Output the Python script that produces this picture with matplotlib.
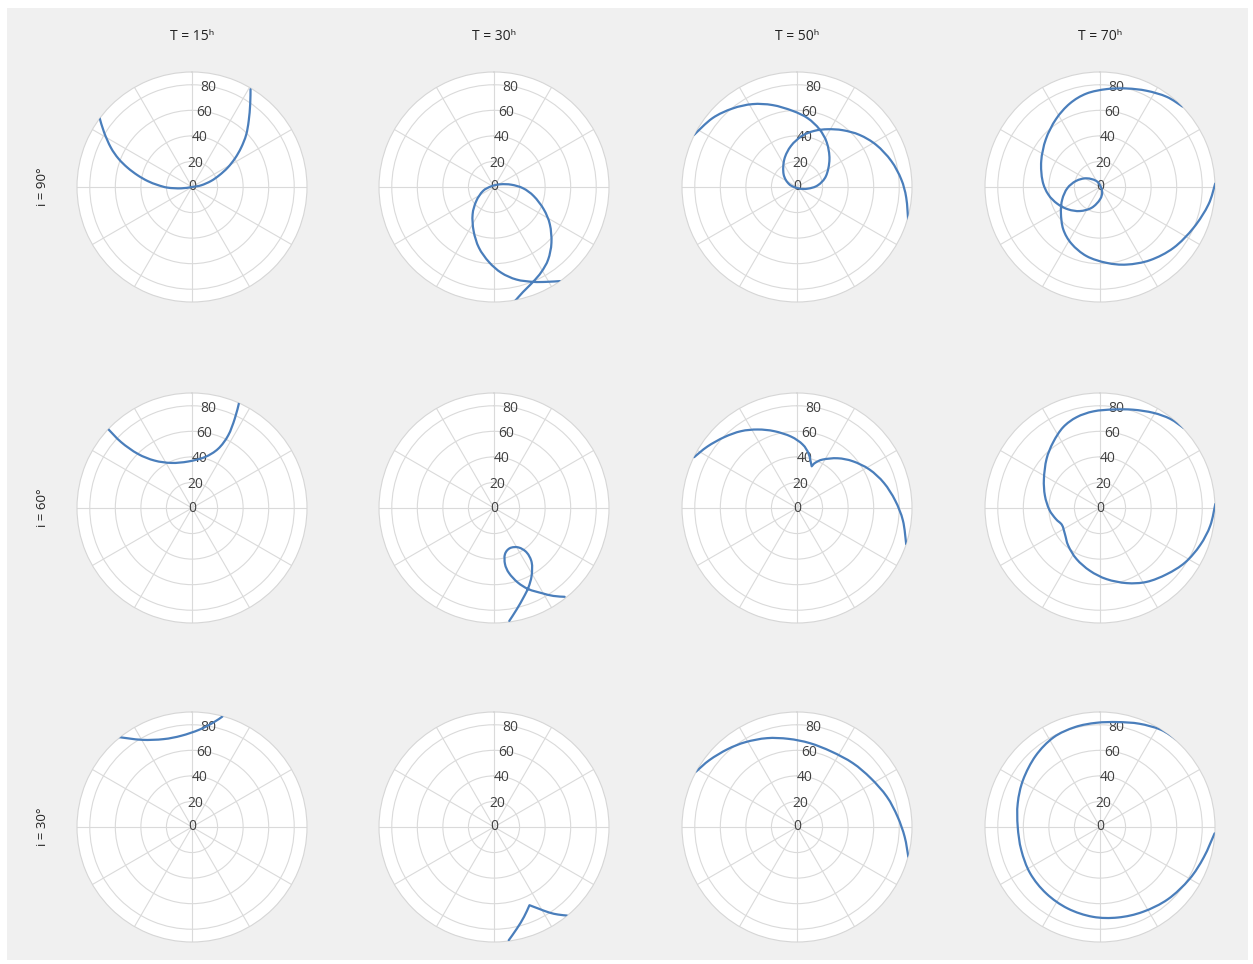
import numpy as np
import matplotlib.pyplot as plt
from matplotlib.patches import Rectangle, PathPatch
from matplotlib.path import Path

plt.rcParams['font.family'] = ['Open Sans', 'DejaVu Sans']

# orbit period (hours) per column, inclination (deg) per row
periods = [15, 30, 50, 70]
inclinations = [90, 60, 30]
r_ticks = [0, 20, 40, 60, 80]

# tracks: azimuth (deg, clockwise from north), zenith distance (deg)
az_90_15 = [306.7, 301.8, 295.9, 291.1, 286.7, 282.2, 277.7, 273.4, 268.5, 263.0, 0.0,
            79.6, 72.5, 66.7, 61.5, 56.3, 51.3, 46.1, 40.6, 35.1, 30.9]
zen_90_15 = [90.1, 80.9, 70.6, 61.7, 52.7, 43.6, 35.1, 27.0, 19.1, 8.7, 0.0,
             7.2, 15.6, 23.3, 31.8, 40.5, 49.3, 58.8, 68.2, 79.2, 89.2]

az_90_30 = [169.7, 164.5, 157.6, 150.8, 143.2, 134.2, 123.8, 114.2, 102.9, 92.5, 82.5, 67.0,
            284.0, 250.0, 231.6, 218.0, 204.8, 193.9, 183.8, 175.1, 166.4, 157.6, 151.1, 145.0]
zen_90_30 = [90.9, 85.2, 80.3, 76.1, 70.8, 62.7, 52.6, 42.7, 31.9, 22.8, 13.7, 5.4,
             2.2, 9.2, 17.7, 27.2, 38.0, 49.0, 58.9, 67.4, 74.5, 80.3, 84.8, 89.9]

az_90_50 = [296.9, 309.2, 320.6, 331.8, 343.4, 356.7, 8.8, 21.2, 33.8, 49.5, 69.2, 85.4, 98.8,
            129.0, 289.3, 313.4, 335.5, 351.7, 5.6, 17.2, 28.0, 38.9, 50.2, 62.0, 74.5, 85.8,
            95.6, 107.3]
zen_90_50 = [90.3, 85.3, 79.5, 73.6, 66.9, 59.7, 54.5, 48.5, 41.9, 33.4, 24.3, 16.3, 8.5,
             1.7, 6.4, 14.4, 23.9, 32.5, 40.2, 46.0, 51.2, 57.1, 63.7, 70.2, 76.5, 81.8,
             85.9, 91.2]

az_90_70 = [45.7, 36.5, 25.9, 15.2, 3.9, 351.8, 340.2, 327.0, 311.4, 293.9, 276.0, 261.8,
            248.6, 234.8, 219.8, 201.8, 180.0, 153.0, 333.0, 302.9, 284.0, 267.8, 251.8,
            236.7, 220.9, 206.6, 191.0, 175.0, 161.0, 145.6, 129.6, 113.5, 99.1, 88.3]
zen_90_70 = [90.2, 87.8, 83.7, 79.9, 76.8, 73.9, 69.5, 63.3, 56.5, 50.3, 45.2, 40.9,
             35.9, 30.4, 24.5, 17.5, 9.7, 3.5, 4.7, 12.5, 19.4, 25.6, 31.1,
             36.6, 43.9, 49.7, 55.1, 59.6, 64.2, 69.4, 74.7, 79.9, 86.0, 90.2]

az_60_15 = [313.3, 312.9, 315.0, 321.7, 335.4, 355.1, 14.0, 23.8, 26.5, 25.6, 24.1]
zen_60_15 = [90.5, 75.7, 59.9, 47.3, 38.8, 36.5, 41.0, 50.6, 63.4, 77.4, 90.2]

az_60_30 = [172.3, 167.3, 161.8, 156.6, 151.0, 145.3, 143.7, 148.2, 158.3, 166.6, 168.9,
            167.0, 162.3, 157.0, 150.7, 146.0, 141.5]
zen_60_30 = [89.2, 81.2, 73.8, 67.8, 60.7, 51.8, 43.2, 36.3, 33.8, 37.1, 44.8,
             52.3, 61.2, 69.0, 76.4, 83.0, 88.8]

az_60_50 = [296.3, 304.5, 314.2, 323.9, 333.4, 343.5, 355.2, 5.1, 12.2, 19.4, 21.8, 27.9,
            39.3, 50.1, 62.0, 73.9, 85.7, 96.8, 108.3]
zen_60_50 = [89.8, 85.0, 79.5, 74.4, 68.7, 62.7, 56.1, 49.9, 43.3, 34.6, 38.0, 42.9,
             50.3, 57.0, 64.2, 70.8, 77.1, 83.5, 90.0]

az_60_70 = [46.2, 38.2, 29.3, 18.7, 7.7, 356.1, 345.6, 335.5, 324.6, 312.6, 297.3, 282.7,
            268.1, 256.0, 246.0, 233.4, 220.0, 204.6, 189.0, 174.7, 160.4, 147.7, 134.7,
            122.6, 110.3, 99.1, 88.0]
zen_60_70 = [90.6, 88.8, 85.4, 81.2, 77.8, 75.8, 73.4, 69.5, 63.2, 56.8, 49.4, 44.2,
             39.7, 35.6, 32.6, 34.2, 38.6, 44.0, 49.8, 55.9, 62.4, 68.4, 73.6,
             79.1, 83.6, 87.4, 90.3]

az_30_15 = [320.8, 330.1, 342.0, 353.3, 4.2, 11.6, 15.4]
zen_30_15 = [90.8, 78.7, 72.3, 71.9, 76.3, 83.5, 89.7]

az_30_30 = [172.6, 167.3, 161.5, 155.6, 151.5, 147.2, 143.8, 140.5]
zen_30_30 = [89.4, 81.5, 74.1, 67.2, 72.6, 79.6, 84.9, 89.8]

az_30_50 = [298.8, 307.5, 318.3, 328.7, 341.3, 354.5, 8.7, 24.5, 41.2, 56.5, 71.3, 84.1,
            95.2, 105.0]
zen_30_50 = [90.1, 86.2, 81.6, 77.7, 73.4, 69.3, 66.4, 64.9, 66.4, 69.2, 74.2, 79.1,
             84.6, 90.2]

az_30_70 = [41.0, 32.0, 20.9, 9.7, 358.0, 345.9, 332.6, 317.9, 301.5, 286.1, 270.3, 253.7,
            236.4, 218.9, 201.6, 184.6, 168.8, 153.2, 136.7, 120.2, 106.3, 93.2]
zen_30_70 = [91.0, 89.8, 86.5, 83.3, 81.6, 80.6, 79.0, 75.1, 70.6, 67.0, 64.4, 64.2,
             65.6, 66.9, 68.6, 70.5, 72.2, 74.4, 77.6, 81.0, 84.6, 89.8]

# the two cusps (30h at i=60/30, 50h at i=60) stay sharp
cusps = {(60, 50): [9], (30, 30): [3]}

tracks = {
    (90, 15): (az_90_15, zen_90_15), (90, 30): (az_90_30, zen_90_30),
    (90, 50): (az_90_50, zen_90_50), (90, 70): (az_90_70, zen_90_70),
    (60, 15): (az_60_15, zen_60_15), (60, 30): (az_60_30, zen_60_30),
    (60, 50): (az_60_50, zen_60_50), (60, 70): (az_60_70, zen_60_70),
    (30, 15): (az_30_15, zen_30_15), (30, 30): (az_30_30, zen_30_30),
    (30, 50): (az_30_50, zen_30_50), (30, 70): (az_30_70, zen_30_70),
}


def draw_track(ax, az, zen, sharp=()):
    # smoothed line through the read points (like a "smooth line" chart),
    # bezier handles worked out on the sky plane, then handed back as (theta, r)
    th = np.deg2rad(np.asarray(az, float))
    r = np.asarray(zen, float)
    p = np.column_stack([r * np.sin(th), r * np.cos(th)])
    n = len(p)
    verts, codes = [p[0]], [Path.MOVETO]
    for i in range(n - 1):
        p0, p1, p2, p3 = p[max(i - 1, 0)], p[i], p[i + 1], p[min(i + 2, n - 1)]
        c1 = p1 + (p2 - p0) / 6 if i not in sharp else p1 + (p2 - p1) / 3
        c2 = p2 - (p3 - p1) / 6 if (i + 1) not in sharp else p2 - (p2 - p1) / 3
        verts += [c1, c2, p2]
        codes += [Path.CURVE4] * 3
    v = np.array(verts)
    tv = np.arctan2(v[:, 0], v[:, 1])
    rv = np.hypot(v[:, 0], v[:, 1])
    ax.add_patch(PathPatch(Path(np.column_stack([tv, rv]), codes), fill=False,
                           edgecolor='#4a7ebb', lw=1.6, zorder=3,
                           capstyle='round', joinstyle='round'))


W, H = 1253, 964
fig = plt.figure(figsize=(W / 100, H / 100), dpi=100)
fig.patch.set_facecolor('white')
fig.add_artist(Rectangle((7 / W, 4 / H), 1241 / W, 952 / H, transform=fig.transFigure,
                         facecolor='#f0f0f0', edgecolor='none', zorder=-5))

# panel centres in pixels, radius of each disc
col_x = [192, 494, 797, 1100]
row_y = [187, 508, 827]
R = 115

for row, inc in enumerate(inclinations):
    for col, T in enumerate(periods):
        cx, cy = col_x[col], row_y[row]
        ax = fig.add_axes([(cx - R) / W, 1 - (cy + R) / H, 2 * R / W, 2 * R / H],
                          projection='polar')
        ax.set_theta_zero_location('N')
        ax.set_theta_direction(-1)
        ax.set_facecolor('white')
        ax.set_yticks(r_ticks[1:])
        ax.set_yticklabels([])
        ax.set_xticks(np.deg2rad(np.arange(0, 360, 30)))
        ax.set_xticklabels([])
        ax.tick_params(length=0)
        ax.grid(True, color='#dadada', lw=0.8)
        ax.spines['polar'].set_color('#d6d6d6')
        ax.spines['polar'].set_linewidth(0.8)

        for v in r_ticks:
            ax.text(np.deg2rad(9), v - 1 if v else 0, str(v), ha='center', va='center',
                    fontsize=10, color='#404040', zorder=2)

        az, zen = tracks[(inc, T)]
        draw_track(ax, az, zen, cusps.get((inc, T), ()))
        ax.set_xlim(0, 2 * np.pi)
        ax.set_ylim(0, 90)

        if row == 0:
            fig.text(cx / W, 1 - 37 / H, 'T = %d\u02b0' % T, ha='center', va='center',
                     fontsize=10, color='#222222')
    fig.text(42 / W, 1 - row_y[row] / H, 'i = %d\u00b0' % inc, rotation=90,
             ha='center', va='center', fontsize=9.5, color='#222222')

fig.savefig('out.png', dpi=100)
